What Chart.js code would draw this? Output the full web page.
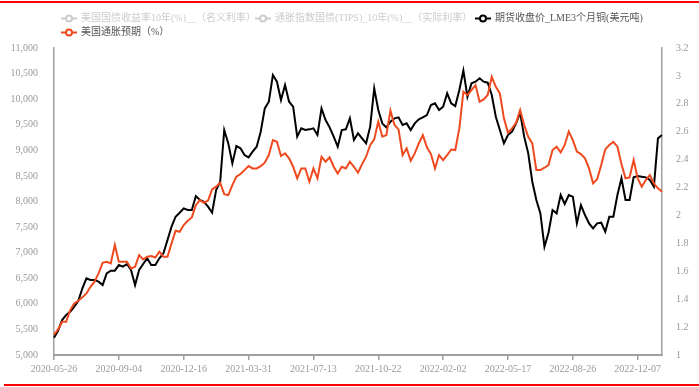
<!DOCTYPE html>
<html>
<head>
<meta charset="utf-8">
<script src="https://cdn.jsdelivr.net/npm/chart.js@4/dist/chart.umd.min.js"></script>
<style>
  html, body { margin:0; padding:0; background:#fff; }
  #wrap { position:relative; width:699px; height:387px; overflow:hidden; }
  canvas { position:absolute; left:0; top:0; }
  .redline { position:absolute; background:#ff0000; }
  .lg { position:absolute; font-family:"Liberation Serif","Noto Sans CJK SC",serif; font-size:10px; line-height:12px; white-space:nowrap; }
  .lg svg { position:absolute; left:0; top:2px; }
  .lg span { position:absolute; left:20px; top:0; }
</style>
</head>
<body>
<div id="wrap">
  <canvas id="c" width="699" height="387"></canvas>
  <div class="redline" style="left:0;top:1px;width:699px;height:2px;"></div>
  <div class="redline" style="left:4px;top:384px;width:695px;height:2px;"></div>
  <div id="legend"></div>
</div>
<script>
// ---- data ----
const tickDates = ["2020-05-26","2020-09-04","2020-12-16","2021-03-31","2021-07-13","2021-10-22","2022-02-02","2022-05-17","2022-08-26","2022-12-07"];
const tickEvery = 16;

const legendNames = [
  "美国国债收益率10年(%)__（名义利率）",
  "通胀指数国债(TIPS)_10年(%)__（实际利率）",
  "期货收盘价_LME3个月铜(美元吨)",
  "美国通胀预期（%）"
];

const copper = [
5338,5475,5683,5781,5846,5944,6061,6302,6498,6465,
6465,6433,6367,6596,6648,6648,6758,6726,6778,6661,
6367,6661,6778,6889,6758,6758,6889,6986,7247,7508,
7703,7781,7866,7833,7833,8107,8029,7996,7899,7781,
8224,8387,9397,9136,8745,9084,9039,8908,8863,8974,
9071,9364,9820,9951,10472,10342,9983,10276,9951,9853,
9267,9430,9397,9410,9430,9300,9820,9592,9449,9267,
9071,9397,9410,9625,9202,9332,9234,9137,9462,10211,
9788,9527,9449,9560,9625,9645,9495,9527,9397,9527,
9605,9645,9690,9886,9918,9788,9853,10114,9918,9866,
10180,10560,10048,10309,10342,10407,10342,10322,10081,9658,
9397,9137,9300,9364,9527,9736,9267,8941,8387,8029,
7768,7117,7390,7833,7768,8127,7951,8127,8094,7573,
7931,7736,7573,7475,7573,7586,7410,7703,7703,8127,
8452,8029,8029,8472,8498,8485,8472,8420,8290,9234,
9300
];

const inflation = [
1.145,1.183,1.238,1.238,1.322,1.370,1.389,1.413,1.441,1.489,
1.525,1.585,1.661,1.668,1.656,1.788,1.668,1.668,1.668,1.620,
1.632,1.716,1.685,1.704,1.709,1.699,1.740,1.704,1.704,1.800,
1.891,1.883,1.931,1.962,1.986,2.074,2.110,2.091,2.106,2.187,
2.206,2.234,2.153,2.146,2.218,2.278,2.297,2.325,2.354,2.337,
2.337,2.354,2.378,2.433,2.540,2.528,2.426,2.445,2.409,2.349,
2.266,2.337,2.337,2.242,2.337,2.266,2.421,2.385,2.416,2.349,
2.301,2.349,2.337,2.385,2.349,2.306,2.368,2.421,2.504,2.545,
2.672,2.564,2.576,2.751,2.648,2.617,2.433,2.481,2.392,2.445,
2.516,2.576,2.488,2.440,2.337,2.433,2.397,2.433,2.473,2.469,
2.624,2.887,2.863,2.899,2.934,2.815,2.832,2.863,2.994,2.922,
2.875,2.696,2.593,2.624,2.664,2.755,2.648,2.564,2.516,2.325,
2.325,2.342,2.361,2.469,2.493,2.452,2.505,2.602,2.540,2.457,
2.440,2.409,2.337,2.230,2.259,2.361,2.473,2.505,2.528,2.493,
2.368,2.266,2.273,2.397,2.266,2.206,2.254,2.289,2.230,2.194,
2.170
];

const categories = copper.map((_, i) => i);

// ---- legend (HTML text) ----
const legendItems = [
  {name: legendNames[0], x: 61, y: 12, color: '#cccccc', text: '#cccccc'},
  {name: legendNames[1], x: 255, y: 12, color: '#cccccc', text: '#cccccc'},
  {name: legendNames[2], x: 475, y: 12, color: '#000000', text: '#555555'},
  {name: legendNames[3], x: 61, y: 26, color: '#ef4a1f', text: '#555555'}
];
const lg = document.getElementById('legend');
legendItems.forEach(it => {
  const d = document.createElement('div');
  d.className = 'lg';
  d.style.left = it.x + 'px';
  d.style.top = it.y + 'px';
  d.innerHTML = '<svg width="16" height="9"><line x1="0" y1="4.5" x2="16" y2="4.5" stroke="' + it.color + '" stroke-width="2"/><circle cx="8" cy="4.5" r="3" fill="#fff" stroke="' + it.color + '" stroke-width="2"/></svg><span style="color:' + it.text + '">' + it.name + '</span>';
  lg.appendChild(d);
});

// ---- chart ----
const tickFont = {family: '"Liberation Serif", "Noto Sans CJK SC", serif', size: 10};
const axisGray = '#a0a0a0';
const labelGray = '#9a9a9a';

new Chart(document.getElementById('c'), {
  type: 'line',
  data: {
    labels: categories,
    datasets: [
      {label: legendNames[3], data: inflation, yAxisID: 'yR', borderColor: '#ef4a1f', borderWidth: 2, pointRadius: 0, tension: 0},
      {label: legendNames[2], data: copper, yAxisID: 'yL', borderColor: '#000000', borderWidth: 2, pointRadius: 0, tension: 0}
    ]
  },
  options: {
    responsive: false,
    animation: false,
    layout: {padding: {top: 48, left: 0, right: 0, bottom: 0}},
    plugins: {legend: {display: false}, tooltip: {enabled: false}},
    scales: {
      x: {
        type: 'category',
        offset: false,
        grid: {
          display: true, drawOnChartArea: false, drawTicks: true, tickLength: 5, lineWidth: 1.5,
          color: (c) => (c.index % tickEvery === 0) ? axisGray : 'rgba(0,0,0,0)'
        },
        border: {display: true, color: axisGray, width: 2},
        ticks: {
          autoSkip: false, maxRotation: 0, minRotation: 0, padding: 3,
          color: labelGray, font: tickFont,
          callback: (v, i) => (i % tickEvery === 0 && tickDates[i / tickEvery]) ? tickDates[i / tickEvery] : ''
        },
        afterFit: (s) => { s.height = 32; }
      },
      yL: {
        position: 'left',
        min: 5000, max: 11000,
        grid: {display: false},
        border: {display: true, color: axisGray, width: 1.5},
        ticks: {stepSize: 500, padding: 8, color: labelGray, font: tickFont,
          callback: (v) => v.toLocaleString('en-US')},
        afterFit: (s) => { s.width = 54; }
      },
      yR: {
        position: 'right',
        min: 1, max: 3.2,
        grid: {display: false},
        border: {display: true, color: axisGray, width: 1.5},
        ticks: {stepSize: 0.2, padding: 6, color: labelGray, font: tickFont,
          callback: (v) => String(+v.toFixed(1))},
        afterFit: (s) => { s.width = 37; }
      }
    }
  }
});
</script>
</body>
</html>
